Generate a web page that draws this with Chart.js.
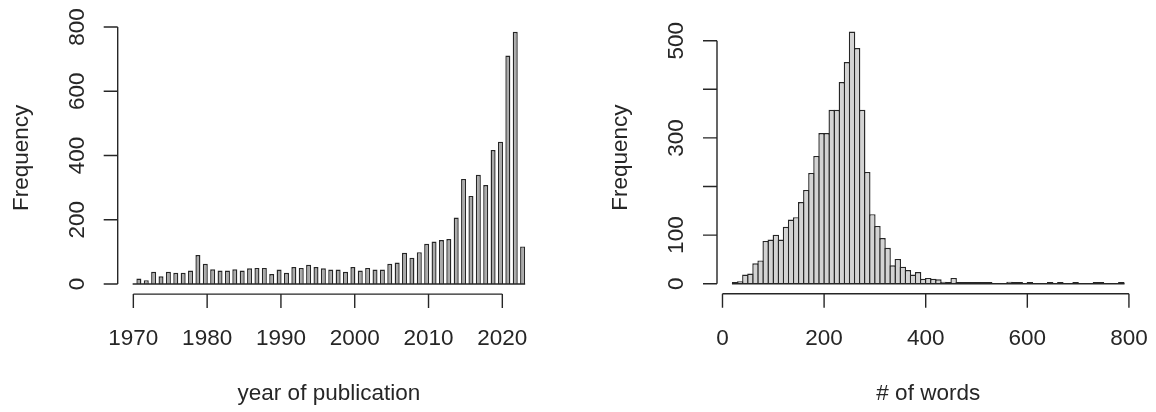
<!DOCTYPE html>
<html>
<head>
<meta charset="utf-8">
<script src="https://cdn.jsdelivr.net/npm/chart.js@4/dist/chart.umd.min.js"></script>
<style>
  html, body { margin: 0; padding: 0; background: #ffffff; }
  #wrap { position: relative; width: 1156px; height: 412px; overflow: hidden; background: #ffffff; }
  canvas { position: absolute; top: 0; }
  #pubChart { left: 0; }
  #wordChart { left: 578px; }
</style>
</head>
<body>
<div id="wrap">
  <canvas id="pubChart" width="578" height="412"></canvas>
  <canvas id="wordChart" width="578" height="412"></canvas>
</div>
<script>
// ---- year of publication: one half-year bin per year, bar covers (year - 0.5, year]
const pubYears = [
  1971, 1972, 1973, 1974, 1975, 1976, 1977, 1978, 1979, 1980,
  1981, 1982, 1983, 1984, 1985, 1986, 1987, 1988, 1989, 1990,
  1991, 1992, 1993, 1994, 1995, 1996, 1997, 1998, 1999, 2000,
  2001, 2002, 2003, 2004, 2005, 2006, 2007, 2008, 2009, 2010,
  2011, 2012, 2013, 2014, 2015, 2016, 2017, 2018, 2019, 2020,
  2021, 2022, 2023
];
const pubCounts = [
  17, 12, 38, 24, 38, 35, 35, 42, 90, 63,
  46, 42, 42, 46, 42, 49, 50, 50, 31, 45,
  35, 53, 50, 60, 53, 49, 45, 45, 38, 53,
  42, 50, 45, 45, 63, 67, 97, 82, 99, 125,
  132, 137, 140, 207, 327, 274, 340, 308, 417, 443,
  711, 785, 117
];
const pubRange = [1970, 2023];
const pubBinWidth = 0.5;
const yearTicks = [1970, 1980, 1990, 2000, 2010, 2020];
const yearLabels = ['1970', '1980', '1990', '2000', '2010', '2020'];
const pubFreqTicks = [0, 200, 400, 600, 800];
const pubFreqLabels = ['0', '200', '400', '600', '800'];

// ---- number of words: bins of 10 words, bar covers [start, start + 10)
const wordBinStarts = [
  20, 30, 40, 50, 60, 70, 80, 90, 100, 110,
  120, 130, 140, 150, 160, 170, 180, 190, 200, 210,
  220, 230, 240, 250, 260, 270, 280, 290, 300, 310,
  320, 330, 340, 350, 360, 370, 380, 390, 400, 410,
  420, 430, 440, 450, 460, 470, 480, 490, 500, 510,
  520, 530, 540, 550, 560, 570, 580, 590, 600, 610,
  620, 630, 640, 650, 660, 670, 680, 690, 700, 710,
  720, 730, 740, 750, 760, 770, 780
];
const wordCounts = [
  2, 5, 19, 21, 42, 48, 88, 91, 101, 91,
  117, 132, 137, 168, 193, 228, 263, 310, 310, 358,
  358, 415, 456, 519, 485, 358, 230, 143, 119, 94,
  74, 38, 51, 35, 28, 19, 24, 10, 12, 10,
  9, 4, 3, 12, 2, 1, 1, 1, 1, 1,
  1, 0, 0, 0, 4, 1, 1, 0, 1, 0,
  0, 0, 1, 0, 1, 0, 0, 1, 0, 0,
  0, 1, 1, 0, 0, 0, 1
];
const wordRange = [20, 790];
const wordBinWidth = 10;
const wordTicks = [0, 200, 400, 600, 800];
const wordLabels = ['0', '200', '400', '600', '800'];
const wordFreqTicks = [0, 100, 200, 300, 400, 500];
const wordFreqLabels = ['0', '100', '', '300', '', '500'];

// ---- styling
const INK = '#262626';
const FONT = '22.5px "Liberation Sans", Arial, Helvetica, sans-serif';
const LINE_W = 1.4;
const TICK_LEN = 14;

// axis limits padded by 4% on each side
function padded(lo, hi) {
  const d = (hi - lo) * 0.04;
  return [lo - d, hi + d];
}

// axes drawn detached from the plot box, lines running only from first to last tick
const detachedAxes = {
  id: 'detachedAxes',
  afterDatasetsDraw(chart, args, o) {
    const { ctx, chartArea: a } = chart;
    const xs = chart.scales.x, ys = chart.scales.y;
    ctx.save();
    ctx.strokeStyle = INK;
    ctx.lineWidth = LINE_W;
    ctx.lineCap = 'square';

    // zero line along the whole binned range (empty bins show as flat bars)
    const y0 = ys.getPixelForValue(0);
    ctx.beginPath();
    ctx.moveTo(xs.getPixelForValue(o.range[0]), y0);
    ctx.lineTo(xs.getPixelForValue(o.range[1]), y0);
    ctx.stroke();

    ctx.lineCap = 'butt';
    ctx.beginPath();
    // y axis
    ctx.moveTo(a.left, ys.getPixelForValue(o.yTicks[0]));
    ctx.lineTo(a.left, ys.getPixelForValue(o.yTicks[o.yTicks.length - 1]));
    o.yTicks.forEach(v => {
      const p = ys.getPixelForValue(v);
      ctx.moveTo(a.left, p);
      ctx.lineTo(a.left - TICK_LEN, p);
    });
    // x axis
    ctx.moveTo(xs.getPixelForValue(o.xTicks[0]), a.bottom);
    ctx.lineTo(xs.getPixelForValue(o.xTicks[o.xTicks.length - 1]), a.bottom);
    o.xTicks.forEach(v => {
      const p = xs.getPixelForValue(v);
      ctx.moveTo(p, a.bottom);
      ctx.lineTo(p, a.bottom + TICK_LEN);
    });
    ctx.stroke();

    ctx.fillStyle = INK;
    ctx.font = FONT;
    ctx.textAlign = 'center';
    ctx.textBaseline = 'alphabetic';

    // x tick labels and title
    o.xTicks.forEach((v, i) => {
      ctx.fillText(o.xLabels[i], xs.getPixelForValue(v), a.bottom + 51);
    });
    ctx.fillText(o.xTitle, (a.left + a.right) / 2, a.bottom + 106);

    // y tick labels and title, rotated
    o.yTicks.forEach((v, i) => {
      if (!o.yLabels[i]) return;
      ctx.save();
      ctx.translate(a.left - 34, ys.getPixelForValue(v));
      ctx.rotate(-Math.PI / 2);
      ctx.fillText(o.yLabels[i], 0, 0);
      ctx.restore();
    });
    ctx.save();
    ctx.translate(a.left - 90, (a.top + a.bottom) / 2);
    ctx.rotate(-Math.PI / 2);
    ctx.fillText(o.yTitle, 0, 0);
    ctx.restore();

    ctx.restore();
  }
};

function histogram(canvasId, cfg) {
  const [xMin, xMax] = padded(cfg.range[0], cfg.range[1]);
  const [yMin, yMax] = padded(0, Math.max(...cfg.counts));
  return new Chart(document.getElementById(canvasId), {
    type: 'bar',
    data: {
      datasets: [{
        // empty bins are left to the zero line
        data: cfg.centers.map((c, i) => ({ x: c, y: cfg.counts[i] === 0 ? null : cfg.counts[i] })),
        backgroundColor: cfg.fill,
        borderColor: INK,
        borderWidth: LINE_W,
        borderSkipped: 'start',
        minBarLength: 1.6,
        barPercentage: cfg.barPct,
        categoryPercentage: 1
      }]
    },
    options: {
      responsive: false,
      animation: false,
      devicePixelRatio: 1,
      layout: { padding: cfg.padding },
      plugins: {
        legend: { display: false },
        tooltip: { enabled: false },
        detachedAxes: cfg.axes
      },
      scales: {
        x: { type: 'linear', min: xMin, max: xMax, offset: false, display: false },
        y: { type: 'linear', min: yMin, max: yMax, display: false }
      }
    },
    plugins: [detachedAxes]
  });
}

// year-of-publication histogram: bars sit on the upper half of each year
histogram('pubChart', {
  range: pubRange,
  centers: pubYears.map(y => y - pubBinWidth / 2),
  counts: pubCounts,
  fill: '#a9a9a9',
  barPct: 0.68,
  padding: { left: 117.7, right: 37.9, top: 21.7, bottom: 117.9 },
  axes: {
    range: pubRange,
    xTicks: yearTicks, xLabels: yearLabels,
    yTicks: pubFreqTicks, yLabels: pubFreqLabels,
    xTitle: 'year of publication', yTitle: 'Frequency'
  }
});

// word-count histogram: contiguous bins, borders overlap so neighbours share one line
histogram('wordChart', {
  range: wordRange,
  centers: wordBinStarts.map(s => s + wordBinWidth / 2),
  counts: wordCounts,
  fill: '#d3d3d3',
  barPct: 1.27,
  padding: { left: 139, right: 16.5, top: 21.4, bottom: 118.2 },
  axes: {
    range: wordRange,
    xTicks: wordTicks, xLabels: wordLabels,
    yTicks: wordFreqTicks, yLabels: wordFreqLabels,
    xTitle: '# of words', yTitle: 'Frequency'
  }
});
</script>
</body>
</html>
